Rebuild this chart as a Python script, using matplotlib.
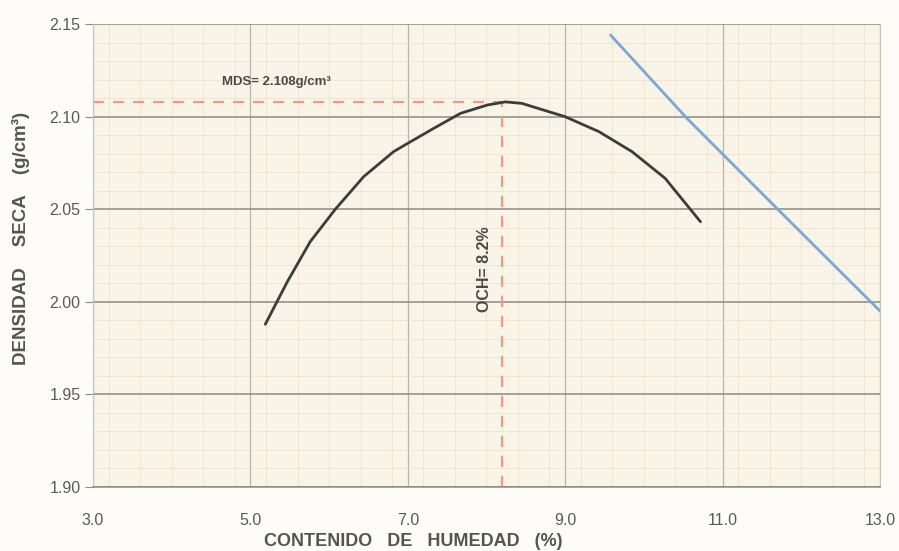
import matplotlib
matplotlib.use("Agg")
import matplotlib.pyplot as plt
from matplotlib.ticker import MultipleLocator

plt.rcParams["font.family"] = ["Liberation Sans", "DejaVu Sans"]

# compaction curve (moisture %, dry density g/cm3)
humedad = [5.19, 5.47, 5.76, 6.08, 6.44, 6.82, 7.00, 7.33, 7.67, 8.01, 8.24,
           8.45, 9.00, 9.43, 9.85, 10.27, 10.72]
densidad = [1.9878, 2.0108, 2.0324, 2.0500, 2.0676, 2.0811, 2.0856, 2.0937,
            2.1018, 2.1063, 2.1080, 2.1072, 2.1000, 2.0919, 2.0811, 2.0667, 2.0432]

# zero air voids line
zav_humedad = [9.58, 10.55, 11.71, 13.0]
zav_densidad = [2.144, 2.099, 2.0496, 1.995]

mds = 2.108
och = 8.2

xticks = [3.0, 5.0, 7.0, 9.0, 11.0, 13.0]
yticks = [1.90, 1.95, 2.00, 2.05, 2.10, 2.15]

fig = plt.figure(figsize=(8.99, 5.51), dpi=100)
fig.patch.set_facecolor("#fdfcf8")
ax = fig.add_axes([0.1034, 0.1167, 0.8754, 0.8394])
ax.set_facecolor("#f8f4e8")

ax.set_xlim(3.0, 13.0)
ax.set_ylim(1.90, 2.15)

ax.xaxis.set_minor_locator(MultipleLocator(0.4))
ax.yaxis.set_minor_locator(MultipleLocator(0.01))
ax.grid(which="minor", color="#eed9c8", lw=0.6, alpha=0.7)
ax.grid(which="major", axis="x", color="#b8b4a8", lw=0.9)
ax.grid(which="major", axis="y", color="#8c8a84", lw=1.1)
ax.tick_params(which="minor", length=0)
ax.set_axisbelow(True)

# optimum markers
ax.plot([3.0, och], [mds, mds], ls=(0, (5, 4)), color="#ef9c82", lw=1.6)
ax.plot([och, och], [1.90, mds], ls=(0, (5, 4)), color="#ef9c82", lw=1.6)

ax.plot(humedad, densidad, color="#3c3c38", lw=2.0,
        solid_capstyle="round", solid_joinstyle="round")
ax.plot(zav_humedad, zav_densidad, color="#7ea6d4", lw=2.0)

ax.text(4.64, 2.119, "MDS= 2.108g/cm³", fontsize=9.5, fontweight="bold",
        color="#4a4a46", va="center", ha="left")
ax.text(7.97, 2.0175, "OCH= 8.2%", fontsize=11.5, fontweight="bold",
        color="#4a4a46", rotation=90, va="center", ha="center")

ax.set_xticks(xticks)
ax.set_xticklabels([f"{v:.1f}" for v in xticks])
ax.set_yticks(yticks)
ax.set_yticklabels([f"{v:.2f}" for v in yticks])
ax.tick_params(axis="y", which="major", length=6, color="#8c8a84",
               labelsize=11.5, labelcolor="#5a5a56", pad=3)
ax.tick_params(axis="x", which="major", length=0, labelsize=11.5,
               labelcolor="#5a5a56", pad=19)

for side, sp in ax.spines.items():
    sp.set_color("#c8c4b8")
    sp.set_linewidth(0.8)
ax.spines["bottom"].set_color("#8c8a84")
ax.spines["bottom"].set_linewidth(1.1)
ax.spines["top"].set_visible(False)

fig.text(413 / 899, 1 - 541 / 551, "CONTENIDO   DE   HUMEDAD   (%)", fontsize=13,
         fontweight="bold", color="#55554f", ha="center", va="center")
fig.text(21 / 899, 1 - 238 / 551, "DENSIDAD    SECA    (g/cm³)", fontsize=13.5,
         fontweight="bold", color="#55554f", ha="center", va="center",
         rotation=90)

fig.savefig("out.png", dpi=100)
